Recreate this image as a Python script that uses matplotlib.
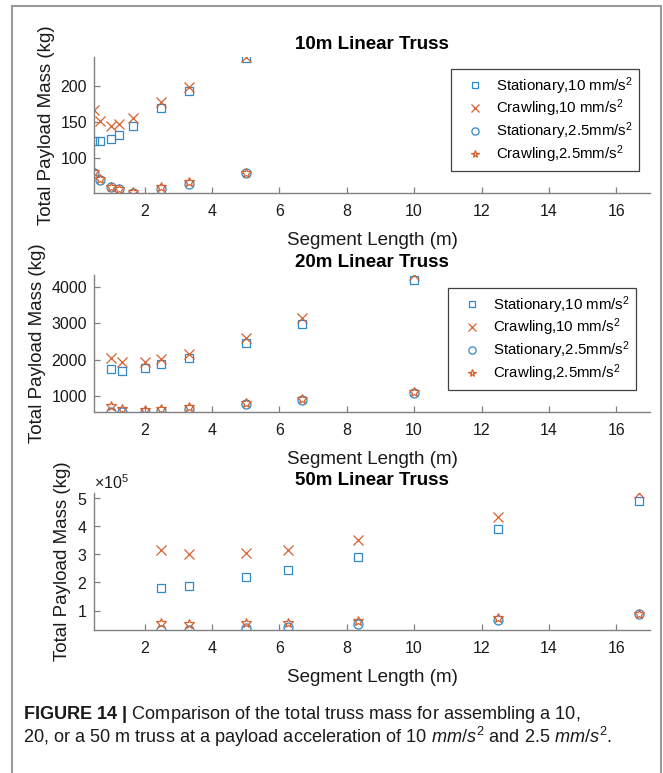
import matplotlib
matplotlib.use('Agg')
import matplotlib.pyplot as plt
from matplotlib.patches import Rectangle

plt.rcParams['font.family'] = ['Liberation Sans', 'DejaVu Sans']
plt.rcParams['mathtext.fontset'] = 'custom'
plt.rcParams['mathtext.rm'] = 'Liberation Sans'
plt.rcParams['mathtext.it'] = 'Liberation Sans:italic'
plt.rcParams['mathtext.bf'] = 'Liberation Sans:bold'

# 10m truss
x_10m = [0.5, 0.667, 1.0, 1.25, 1.667, 2.5, 3.333, 5.0]
stat10_10m = [124, 123, 127, 132, 145, 170, 194, 239]
crawl10_10m = [167, 152, 145, 148, 156, 178, 199, 241]
stat25_10m = [79.5, 69, 59.5, 56, 51, 56, 63, 78.5]
crawl25_10m = [80, 70, 60, 56.5, 52, 59.5, 66, 79.5]

# 20m truss
x_20m = [1.0, 1.333, 2.0, 2.5, 3.333, 5.0, 6.667, 10.0]
stat10_20m = [1740, 1690, 1757, 1868, 2034, 2450, 2976, 4205]
crawl10_20m = [2043, 1923, 1933, 2025, 2163, 2607, 3142, 4340]
stat25_20m = [557, 557, 550, 575, 630, 760, 880, 1075]
crawl25_20m = [705, 640, 612, 640, 695, 788, 898, 1095]

# 50m truss
x_50m = [2.5, 3.333, 5.0, 6.25, 8.333, 12.5, 16.667]
stat10_50m = [1.81e5, 1.89e5, 2.20e5, 2.45e5, 2.90e5, 3.90e5, 4.91e5]
crawl10_50m = [3.14e5, 3.00e5, 3.04e5, 3.15e5, 3.51e5, 4.32e5, 5.18e5]
stat25_50m = [0.31e5, 0.31e5, 0.38e5, 0.42e5, 0.51e5, 0.65e5, 0.87e5]
crawl25_50m = [0.56e5, 0.54e5, 0.56e5, 0.55e5, 0.62e5, 0.75e5, 0.89e5]

titles = ['10m Linear Truss', '20m Linear Truss', '50m Linear Truss']
labels = ['Stationary,10 mm/s$^2$', 'Crawling,10 mm/s$^2$',
          'Stationary,2.5mm/s$^2$', 'Crawling,2.5mm/s$^2$']
xticks = [2, 4, 6, 8, 10, 12, 14, 16]

blue = '#3088c8'
orange = '#d8602c'
styles = [('s', blue, 5.5), ('x', orange, 6.5), ('o', blue, 6.5), ('*', orange, 7)]

data = [
    (x_10m, [stat10_10m, crawl10_10m, stat25_10m, crawl25_10m]),
    (x_20m, [stat10_20m, crawl10_20m, stat25_20m, crawl25_20m]),
    (x_50m, [stat10_50m, crawl10_50m, stat25_50m, crawl25_50m]),
]

fig = plt.figure(figsize=(6.63, 7.73), dpi=100)
W, H = 663, 773
# axes boxes in pixels: left, top, right, bottom
boxes = [(94, 57, 650, 193), (94, 275, 650, 412), (94, 493, 650, 630)]
# legend upper right corner in pixels
legend_corner = [(639, 69), (636, 288)]

for i, (xs, series) in enumerate(data):
    l, t, r, b = boxes[i]
    ax = fig.add_axes([l / W, 1 - b / H, (r - l) / W, (b - t) / H])
    for ys, (m, c, ms), lab in zip(series, styles, labels):
        ax.plot(xs, ys, linestyle='none', marker=m, color=c, mfc='none',
                mew=0.9, ms=ms, label=lab)
    allv = [v for s in series for v in s]
    ax.set_ylim(min(allv), max(allv))
    ax.set_xlim(0.5, 17)
    ax.set_xticks(xticks)
    for sp in ['top', 'right']:
        ax.spines[sp].set_visible(False)
    for sp in ['left', 'bottom']:
        ax.spines[sp].set_color('#808080')
        ax.spines[sp].set_linewidth(1.0)
    ax.tick_params(direction='in', length=4, width=0.9, color='#808080',
                   labelsize=11.5, labelcolor='#1a1a1a')
    ax.tick_params(axis='x', pad=8)
    ax.tick_params(axis='y', pad=5)
    ax.set_title(titles[i], fontsize=13.5, fontweight='bold', y=1.0, pad=6)
    ax.set_xlabel('Segment Length (m)', fontsize=13.5, labelpad=9, color='#1a1a1a')
    ax.set_ylabel('Total Payload Mass (kg)', fontsize=13.5, labelpad=4, color='#1a1a1a')
    if i == 2:
        ax.ticklabel_format(axis='y', style='sci', scilimits=(0, 0), useMathText=True)
        ax.yaxis.get_offset_text().set_fontsize(11.5)
        ax.set_yticks([1e5, 2e5, 3e5, 4e5, 5e5])
    if i < 2:
        cx, cy = legend_corner[i]
        leg = ax.legend(loc='upper right', bbox_to_anchor=(cx / W, 1 - cy / H),
                        bbox_transform=fig.transFigure, borderaxespad=0,
                        fontsize=10.8, fancybox=False, framealpha=1,
                        edgecolor='#404040', handlelength=2.4, handletextpad=0.2,
                        labelspacing=0.08, borderpad=0.4, markerscale=0.8)
        leg.get_frame().set_linewidth(0.9)

# grey frame round the figure
fig.patches.append(Rectangle((12 / W, -0.05), (661 - 12) / W, 1.05 - 6 / H,
                             transform=fig.transFigure, fill=False,
                             edgecolor='#9a9a9a', lw=1.5))

cap1 = r'$\mathbf{FIGURE\ 14\ |}$ Comparison of the total truss mass for assembling a 10,'
cap2 = r'20, or a 50 m truss at a payload acceleration of 10 $\mathit{mm/s}^2$ and 2.5 $\mathit{mm/s}^2$.'
fig.text(23 / W, 1 - 719 / H, cap1, fontsize=13.1, va='baseline', color='#1a1a1a')
fig.text(23 / W, 1 - 743 / H, cap2, fontsize=13.1, va='baseline', color='#1a1a1a')

fig.savefig('out.png', dpi=100)
